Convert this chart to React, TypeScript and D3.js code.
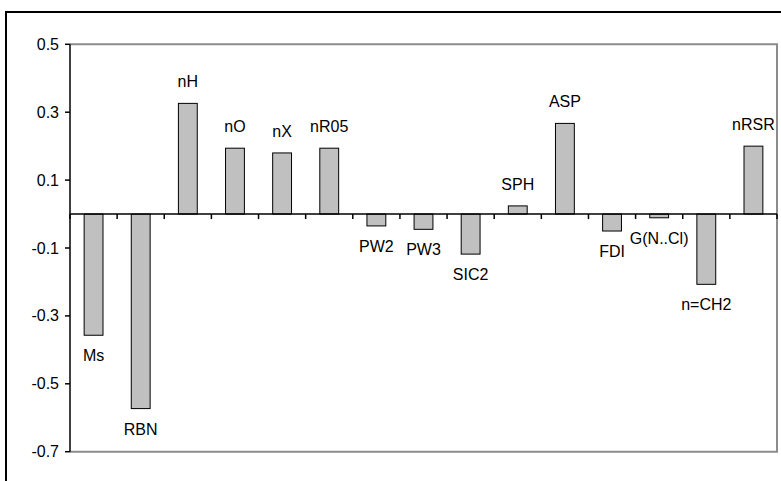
import React from "react";
import * as d3 from "d3";

const categories = ["Ms", "RBN", "nH", "nO", "nX", "nR05", "PW2", "PW3", "SIC2", "SPH", "ASP", "FDI", "G(N..Cl)", "n=CH2", "nRSR"];
const values = [-0.357, -0.573, 0.326, 0.194, 0.18, 0.194, -0.035, -0.045, -0.118, 0.024, 0.267, -0.05, -0.011, -0.207, 0.2];
const yTicks = [-0.7, -0.5, -0.3, -0.1, 0.1, 0.3, 0.5];

const W = 781, H = 481;
const left = 70, right = 777, top = 44.3, bottom = 451.7;
const font = "'Liberation Sans', Arial, sans-serif";

const App = () => {
    const x = d3.scaleBand<string>()
        .domain(categories)
        .range([left, right])
        .paddingInner(0.6)
        .paddingOuter(0.3);

    const y = d3.scaleLinear().domain([-0.7, 0.5]).range([bottom, top]);

    const step = x.step();
    const y0 = y(0);

    // category boundaries on the zero line
    const boundaries = categories.map(c => (x(c) as number) - step * 0.3);
    boundaries.push(right);

    return (
        <svg width={W} height={H} style={{ position: "absolute", left: 0, top: 0, background: "#fff" }}>
            {/* outer frame, runs off the picture at right and bottom */}
            <rect x={6} y={12} width={820} height={520} fill="none" stroke="#000" strokeWidth={2} />

            {/* plot area border */}
            <path d={`M${left},${top}H${right}V${bottom}H${left}`} fill="none" stroke="#8c8c8c" strokeWidth={2} />

            {/* bars */}
            {categories.map((c, i) => {
                const v = values[i];
                const yt = Math.min(y(v), y0);
                const h = Math.abs(y(v) - y0);
                return (
                    <rect key={c} x={x(c)} y={yt} width={x.bandwidth()} height={h}
                        fill="#c0c0c0" stroke="#000" strokeWidth={1} />
                );
            })}

            {/* zero line with ticks */}
            <line x1={left} x2={right} y1={y0} y2={y0} stroke="#000" strokeWidth={1.5} />
            {boundaries.map((b, i) => (
                <line key={i} x1={b} x2={b} y1={y0} y2={y0 + 5} stroke="#000" strokeWidth={1.5} />
            ))}

            {/* y axis */}
            <line x1={left} x2={left} y1={top} y2={bottom} stroke="#000" strokeWidth={1.5} />
            {yTicks.map(t => (
                <g key={t}>
                    <line x1={left - 5} x2={left} y1={y(t)} y2={y(t)} stroke="#000" strokeWidth={1.5} />
                    <text x={59} y={y(t) + 5.5} textAnchor="end" fontFamily={font} fontSize={16} fill="#000">
                        {t.toFixed(1)}
                    </text>
                </g>
            ))}

            {/* category labels */}
            {categories.map((c, i) => {
                const v = values[i];
                const cx = (x(c) as number) + x.bandwidth() / 2;
                const ty = v >= 0 ? y(v) - 16 : y(v) + 26;
                return (
                    <text key={c} x={cx} y={ty} textAnchor="middle" fontFamily={font} fontSize={16} fill="#000">
                        {c}
                    </text>
                );
            })}
        </svg>
    );
};

export default App;
